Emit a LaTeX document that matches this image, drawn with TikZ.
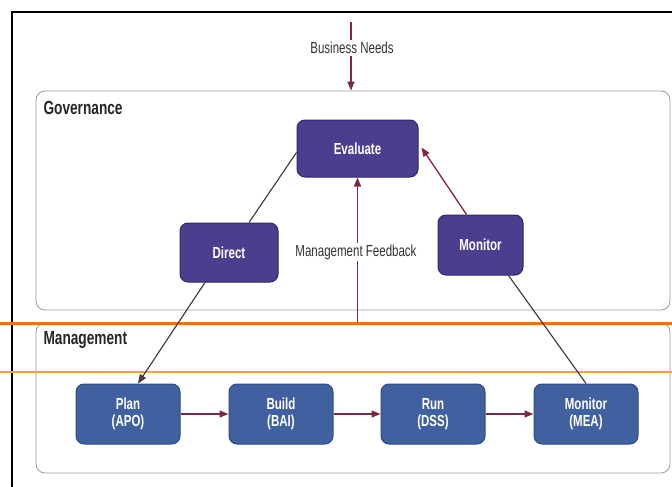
\documentclass[tikz,border=0pt]{standalone}
\usepackage{fontspec}
\setmainfont{Liberation Sans}[FakeStretch=0.72]
\usetikzlibrary{arrows.meta,calc}

\definecolor{govfill}{HTML}{4C3E8E}
\definecolor{govedge}{HTML}{2F2868}
\definecolor{mgmtfill}{HTML}{41609F}
\definecolor{mgmtedge}{HTML}{2E4B86}
\definecolor{arrowred}{HTML}{7A2A40}
\definecolor{linegray}{HTML}{3A3340}
\definecolor{boxgray}{HTML}{9A9AA0}
\definecolor{orangethick}{HTML}{E8731E}
\definecolor{orangethin}{HTML}{EFA040}

\tikzset{
  govnode/.style={draw=govedge, line width=1pt, fill=govfill, rounded corners=8pt,
    text=white, font=\fontsize{16}{17}\selectfont\bfseries, align=center},
  mgmtnode/.style={draw=mgmtedge, line width=1pt, fill=mgmtfill, rounded corners=8pt,
    minimum width=104pt, minimum height=60pt,
    text=white, font=\fontsize{16}{17}\selectfont\bfseries, align=center},
  areabox/.style={draw=boxgray, line width=0.8pt, rounded corners=9pt},
  arealabel/.style={anchor=west, font=\fontsize{19}{20}\selectfont\bfseries, text=black!85},
  flowlabel/.style={fill=white, inner sep=2pt, font=\fontsize{16}{17}\selectfont, text=black!80},
  redarrow/.style={draw=arrowred, line width=1.3pt, -{Triangle[length=9pt,width=7pt]}},
  plainlink/.style={draw=linegray, line width=1.1pt},
  darkarrow/.style={draw=linegray, line width=1.1pt, -{Triangle[length=9pt,width=7pt,fill=arrowred]}},
}

\begin{document}
\begin{tikzpicture}[x=1pt,y=-1pt]
\useasboundingbox (0,0) rectangle (672,487);

% outer frame (top and left edges)
\draw[line width=2.6pt, black] (12,487) -- (12,12) -- (672,12);

% governance and management areas
\node[areabox, minimum width=634pt, minimum height=219pt] (gov) at (353,200.5) {};
\node[arealabel] (govlabel) at (40,108) {Governance};
\node[areabox, minimum width=634pt, minimum height=150pt] (mgmt) at (353,398) {};
\node[arealabel] (mgmtlabel) at (40,340) {Management};

% orange separators
\draw[orangethick, line width=3pt] (0,323) -- (672,323);
\draw[orangethin, line width=1.6pt] (0,372) -- (672,372);

% governance nodes
\node[govnode, minimum width=121pt, minimum height=57pt] (eval) at (357.5,148.5) {Evaluate};
\node[govnode, minimum width=98pt, minimum height=59pt] (direct) at (229,252.5) {Direct};
\node[govnode, minimum width=85pt, minimum height=60pt] (govmon) at (480.5,245) {Monitor};

% management nodes
\node[mgmtnode] (plan) at (128,414) {Plan\\(APO)};
\node[mgmtnode] (build) at (281,414) {Build\\(BAI)};
\node[mgmtnode] (run) at (433,414) {Run\\(DSS)};
\node[mgmtnode] (mea) at (586,414) {Monitor\\(MEA)};

% business needs input
\coordinate (bntop) at (351,22);
\draw[redarrow] (bntop) -- (bntop |- gov.north);
\node[flowlabel] (bn) at (352,48) {Business Needs};

% management feedback
\coordinate (mfbase) at (357.5,322);
\draw[redarrow] (mfbase) -- (mfbase |- eval.south);
\node[flowlabel] (mf) at (356,252) {Management Feedback};

% governance links
\draw[plainlink] ($(direct.north)+(20,0)$) -- ($(eval.west)+(0,4)$);
\draw[darkarrow] ($(direct.south)+(-24,0)$) -- ($(plan.north)+(10,0)$);
\draw[redarrow] ($(govmon.north)+(-14,0)$) -- ($(eval.east)+(3,-1)$);
\draw[plainlink] (mea.north) -- ($(govmon.south)+(28,0)$);

% management chain
\draw[redarrow] (plan) -- (build);
\draw[redarrow] (build) -- (run);
\draw[redarrow] (run) -- (mea);
\end{tikzpicture}
\end{document}
